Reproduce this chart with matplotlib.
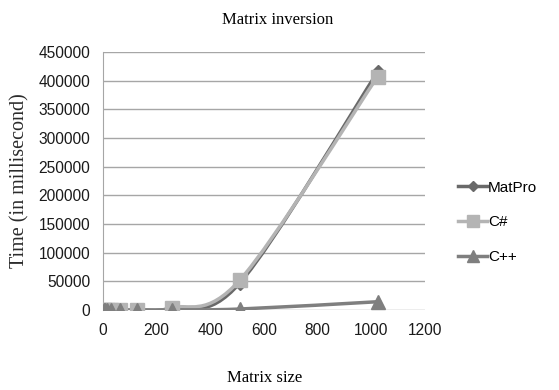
#!/usr/bin/env python3
"""Matrix inversion timing: MatPro vs C# vs C++ (smoothed lines, Excel style)."""

import matplotlib
matplotlib.use("Agg")
import matplotlib.pyplot as plt
from matplotlib.path import Path
from matplotlib.patches import PathPatch
from matplotlib.lines import Line2D

# data
sizes = [4, 8, 16, 32, 64, 128, 256, 512, 1024]
matpro = [0, 0, 5, 30, 150, 600, 3500, 48000, 415000]
csharp = [0, 0, 5, 30, 160, 700, 3800, 53000, 407000]
cpp = [0, 0, 1, 5, 20, 80, 400, 1800, 14500]

series = [
    ("MatPro", matpro, "#696969", "D", 7),
    ("C#", csharp, "#b4b4b4", "s", 10),
    ("C++", cpp, "#7f7f7f", "^", 10),
]


def smooth_path(xs, ys):
    """Bezier path through the points, like Excel's smoothed line."""
    pts = list(zip(xs, ys))
    verts = [pts[0]]
    codes = [Path.MOVETO]
    n = len(pts)
    for i in range(n - 1):
        p0 = pts[max(i - 1, 0)]
        p1 = pts[i]
        p2 = pts[i + 1]
        p3 = pts[min(i + 2, n - 1)]
        c1 = (p1[0] + (p2[0] - p0[0]) / 6, p1[1] + (p2[1] - p0[1]) / 6)
        c2 = (p2[0] - (p3[0] - p1[0]) / 6, p2[1] - (p3[1] - p1[1]) / 6)
        verts += [c1, c2, p2]
        codes += [Path.CURVE4] * 3
    return Path(verts, codes)


fig = plt.figure(figsize=(5.59, 3.90), dpi=100)
ax = fig.add_axes([0.184, 0.205, 0.576, 0.662])

handles = []
for name, vals, color, marker, ms in series:
    ax.add_patch(PathPatch(smooth_path(sizes, vals), fill=False,
                           edgecolor=color, lw=2.5, zorder=3))
    ax.plot(sizes, vals, linestyle="none", marker=marker, ms=ms,
            color=color, zorder=4)
    handles.append(Line2D([], [], color=color, lw=2.5, marker=marker, ms=ms - 2))

ax.set_xlim(0, 1200)
ax.set_ylim(0, 450000)
ax.set_xticks(range(0, 1201, 200))
ax.set_yticks(range(0, 450001, 50000))
ax.grid(axis="y", color="#a6a6a6", lw=1)
ax.set_axisbelow(True)
for s in ["top", "right", "bottom"]:
    ax.spines[s].set_visible(False)
ax.spines["left"].set_color("#a6a6a6")
ax.tick_params(length=0, pad=9)
for lab in ax.get_xticklabels() + ax.get_yticklabels():
    lab.set_family("Liberation Sans")
    lab.set_fontsize(11.2)
    lab.set_color("#1a1a1a")

serif = "Liberation Serif"
fig.text(0.496, 0.949, "Matrix inversion", ha="center", va="center",
         family=serif, fontsize=12)
fig.text(0.474, 0.031, "Matrix size", ha="center", va="center",
         family=serif, fontsize=12)
fig.text(0.036, 0.536, "Time (in millisecond)", ha="center", va="center",
         rotation=90, family=serif, fontsize=14.5, color="#2b2b2b")

leg = fig.legend(handles, [s[0] for s in series], loc="center left",
                 bbox_to_anchor=(0.795, 0.43), frameon=False,
                 handlelength=1.9, handletextpad=0.05, labelspacing=1.35,
                 prop={"family": "Liberation Sans", "size": 11})

fig.savefig("out.png", dpi=100)
